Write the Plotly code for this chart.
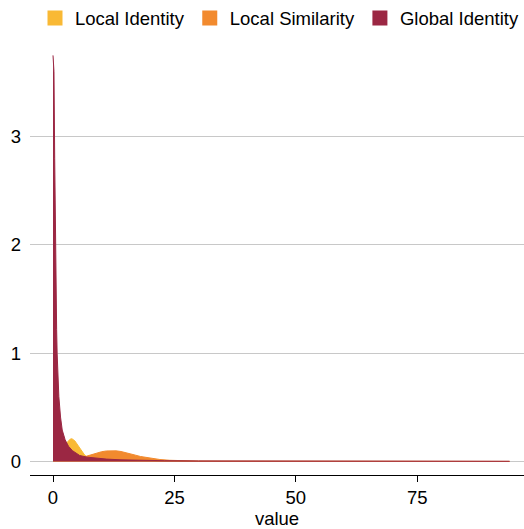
import plotly.graph_objects as go

# Kernel density estimates of alignment scores, one curve per metric
series_names = ["Local Identity", "Local Similarity", "Global Identity"]
series_colors = ["#F9B935", "#F28A2E", "#9B2743"]

local_identity_x = [0, 1, 2, 2.5, 3, 3.5, 3.9, 4.5, 5, 5.5, 6, 6.5, 7, 8, 9, 10, 12, 15, 20, 30, 94]
local_identity_y = [0.02, 0.05, 0.1, 0.14, 0.18, 0.205, 0.21, 0.19, 0.155, 0.12, 0.085, 0.06,
                    0.042, 0.03, 0.025, 0.022, 0.018, 0.012, 0.006, 0.002, 0.0]

local_similarity_x = [0, 1, 2, 3, 4, 5, 6, 7, 8, 9, 10, 11, 12, 13, 14, 15, 16, 17, 18, 20,
                      22, 24, 27, 30, 35, 45, 60, 94]
local_similarity_y = [0.012, 0.01, 0.01, 0.012, 0.018, 0.026, 0.036, 0.05, 0.065, 0.08, 0.09,
                      0.097, 0.1, 0.098, 0.092, 0.083, 0.072, 0.058, 0.046, 0.03, 0.018, 0.011,
                      0.006, 0.003, 0.002, 0.001, 0.0005, 0.0]

global_identity_x = [0, 0.2, 0.35, 0.5, 0.65, 0.75, 0.85, 1.0, 1.2, 1.55, 1.9, 2.5, 3.2, 4.0,
                     5.5, 7, 8.7, 11, 14, 18, 23, 30, 45, 60, 80, 94]
global_identity_y = [3.75, 3.6, 2.8, 2.0, 1.5, 1.22, 1.0, 0.8, 0.6, 0.41, 0.29, 0.2, 0.14, 0.1,
                     0.055, 0.04, 0.03, 0.022, 0.015, 0.01, 0.007, 0.005, 0.003, 0.002, 0.002,
                     0.002]

x_ticks = [0, 25, 50, 75]
y_ticks = [0, 1, 2, 3]

curves = [
    (local_identity_x, local_identity_y),
    (local_similarity_x, local_similarity_y),
    (global_identity_x, global_identity_y),
]

FONT = "Liberation Sans, Arial, Helvetica, sans-serif"
FS = 18.5

fig = go.Figure()
for name, color, (xs, ys) in zip(series_names, series_colors, curves):
    fig.add_trace(go.Scatter(
        x=xs, y=ys, mode="lines", fill="tozeroy",
        line=dict(color=color, width=1), fillcolor=color,
        name=name, showlegend=False, hoverinfo="skip",
    ))
# legend swatches
for name, color in zip(series_names, series_colors):
    fig.add_trace(go.Scatter(
        x=[None], y=[None], mode="markers", name=name,
        marker=dict(symbol="square", size=15, color=color),
    ))

fig.update_layout(
    width=524, height=529,
    margin=dict(l=30, r=0, t=40, b=54),
    paper_bgcolor="white", plot_bgcolor="white",
    font=dict(family=FONT, size=FS, color="black"),
    legend=dict(orientation="h", x=0.016, xanchor="left",
                yref="container", y=1 - 18.5 / 529, yanchor="middle",
                font=dict(size=FS), itemclick=False, itemdoubleclick=False),
    xaxis=dict(
        range=[-4.735, 96.97], tickvals=x_ticks, showgrid=False, zeroline=False,
        showline=True, linecolor="black", linewidth=1,
        ticks="outside", ticklen=6, tickcolor="black",
        title=dict(text="value", standoff=4, font=dict(size=FS)),
    ),
    yaxis=dict(
        range=[-0.125, 3.892], tickvals=y_ticks, showgrid=True, gridcolor="#c8c8c8",
        gridwidth=1, zeroline=False, showline=False, ticks="", ticklabelstandoff=8,
    ),
)

fig.write_html("out.html")
